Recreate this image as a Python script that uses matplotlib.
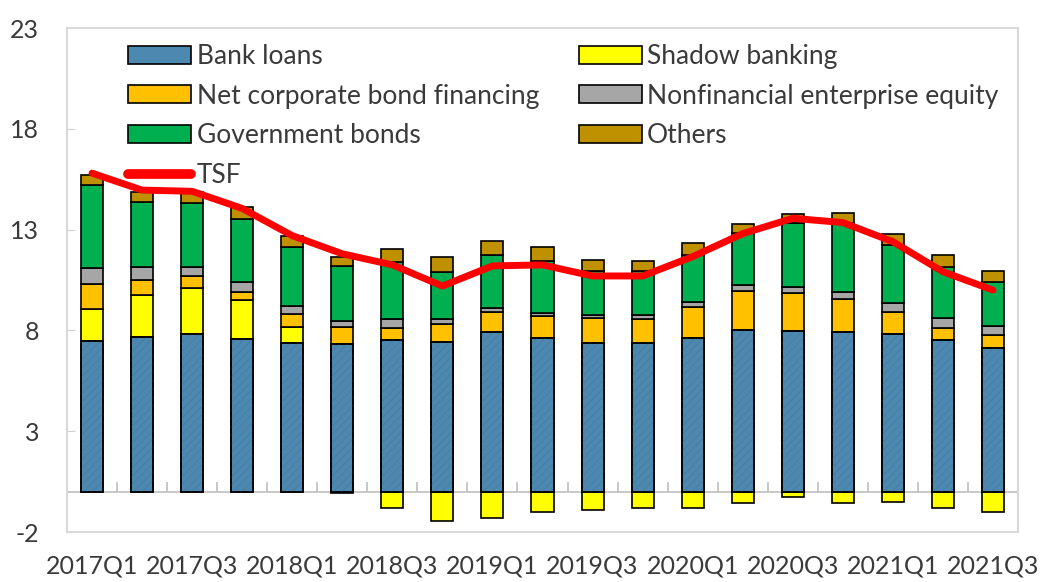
import numpy as np
import matplotlib
matplotlib.use("Agg")
import matplotlib.pyplot as plt
from matplotlib.lines import Line2D
from matplotlib.patches import Patch

quarters = ["2017Q1", "2017Q2", "2017Q3", "2017Q4", "2018Q1", "2018Q2", "2018Q3", "2018Q4",
            "2019Q1", "2019Q2", "2019Q3", "2019Q4", "2020Q1", "2020Q2", "2020Q3", "2020Q4",
            "2021Q1", "2021Q2", "2021Q3"]
bank_loans = [7.47, 7.69, 7.82, 7.57, 7.39, 7.31, 7.52, 7.41, 7.91, 7.61, 7.36, 7.36, 7.61,
              8.02, 7.99, 7.91, 7.81, 7.52, 7.14]
shadow_banking = [1.59, 2.07, 2.30, 1.94, 0.76, -0.05, -0.83, -1.44, -1.32, -1.02, -0.91, -0.83,
                  -0.83, -0.54, -0.25, -0.54, -0.50, -0.83, -0.99]
corp_bonds = [1.24, 0.74, 0.58, 0.41, 0.66, 0.88, 0.62, 0.91, 0.99, 1.12, 1.27, 1.19, 1.57,
              1.95, 1.85, 1.65, 1.09, 0.58, 0.63]
equity = [0.78, 0.63, 0.46, 0.50, 0.40, 0.29, 0.41, 0.23, 0.20, 0.12, 0.13, 0.21, 0.25,
          0.28, 0.33, 0.36, 0.48, 0.50, 0.45]
gov_bonds = [4.13, 3.26, 3.14, 3.11, 2.91, 2.71, 2.86, 2.36, 2.64, 2.59, 2.19, 2.19, 2.31,
             2.57, 3.14, 3.39, 2.86, 2.56, 2.20]
others = [0.50, 0.49, 0.55, 0.57, 0.56, 0.47, 0.61, 0.75, 0.70, 0.71, 0.54, 0.49, 0.58,
          0.44, 0.45, 0.53, 0.53, 0.58, 0.54]
tsf = [15.8, 14.96, 14.9, 14.05, 12.7, 11.8, 11.25, 10.2, 11.2, 11.25, 10.7, 10.7, 11.66,
       12.8, 13.56, 13.35, 12.4, 10.91, 10.0]
yticks = [-2, 3, 8, 13, 18, 23]

plt.rcParams['font.family'] = ['Lato', 'DejaVu Sans']
plt.rcParams['axes.unicode_minus'] = False
text_color = '#3a3a3a'

fig = plt.figure(figsize=(10.4, 5.82), dpi=100)
ax = fig.add_axes([67/1040, 50/582, 951/1040, 504/582])

x = np.arange(len(quarters))
w = 0.44
edge = dict(edgecolor='black', linewidth=1.2)

series = [
    ("Bank loans", bank_loans, '#4D88B0'),
    ("Shadow banking", shadow_banking, '#FFFF00'),
    ("Net corporate bond financing", corp_bonds, '#FFC000'),
    ("Nonfinancial enterprise equity", equity, '#A6A6A6'),
    ("Government bonds", gov_bonds, '#00B050'),
    ("Others", others, '#BF9000'),
]

pos_base = np.zeros(len(x))
neg_base = np.zeros(len(x))
for name, vals, col in series:
    v = np.array(vals, dtype=float)
    bottoms = np.where(v >= 0, pos_base, neg_base)
    ax.bar(x, v, w, bottom=bottoms, color=col, zorder=3, **edge)
    if name == "Bank loans":
        ax.bar(x, v, w, bottom=bottoms, fill=False, hatch='////', edgecolor='#4880a6',
               linewidth=0, zorder=3.5)
        ax.bar(x, v, w, bottom=bottoms, fill=False, zorder=3.6, **edge)
    pos_base = pos_base + np.where(v >= 0, v, 0)
    neg_base = neg_base + np.where(v < 0, v, 0)

ax.plot(x, tsf, color='#FF0000', linewidth=5, solid_capstyle='round',
        solid_joinstyle='round', zorder=5)

ax.set_xlim(-0.5, len(x) - 0.5)
ax.set_ylim(-2, 23)
ax.axhline(0, color='#BFBFBF', linewidth=1.2, zorder=2)

ax.set_yticks(yticks)
ax.set_xticks(x[::2])
ax.set_xticklabels(quarters[::2])
ax.tick_params(axis='x', length=0, pad=16, labelsize=18, labelcolor=text_color)
ax.tick_params(axis='y', direction='in', length=6, color='#D0D0D0', pad=20,
               labelsize=18, labelcolor=text_color)
for s in ax.spines.values():
    s.set_color('#D9D9D9')
    s.set_linewidth(1.5)

# minor tick marks on the zero line between bars
zero_frac = (0 - (-2)) / (23 - (-2))
sec = ax.secondary_xaxis(zero_frac)
sec.set_xticks(x[:-1] + 0.5)
sec.tick_params(axis='x', direction='in', length=7, color='#BFBFBF', labelbottom=False,
                labeltop=False, width=1.2)
sec.spines['bottom'].set_visible(False)
sec.spines['top'].set_visible(False)
sec.set_xticklabels([])

handles = [
    Patch(facecolor='#4D88B0', **edge, label="Bank loans"),
    Patch(facecolor='#FFC000', **edge, label="Net corporate bond financing"),
    Patch(facecolor='#00B050', **edge, label="Government bonds"),
    Line2D([0], [0], color='#FF0000', linewidth=7, solid_capstyle='round', label="TSF"),
    Patch(facecolor='#FFFF00', **edge, label="Shadow banking"),
    Patch(facecolor='#A6A6A6', **edge, label="Nonfinancial enterprise equity"),
    Patch(facecolor='#BF9000', **edge, label="Others"),
]
leg = ax.legend(handles=handles, ncol=2, loc='upper left', frameon=False,
                bbox_to_anchor=((128 - 67) / 951, (532 - 44) / 504), borderaxespad=0,
                borderpad=0, fontsize=19, handlelength=2.4, handleheight=0.65,
                handletextpad=0.2, columnspacing=1.5, labelspacing=0.55)
for t in leg.get_texts():
    t.set_color(text_color)

fig.savefig('out.png', dpi=100)
